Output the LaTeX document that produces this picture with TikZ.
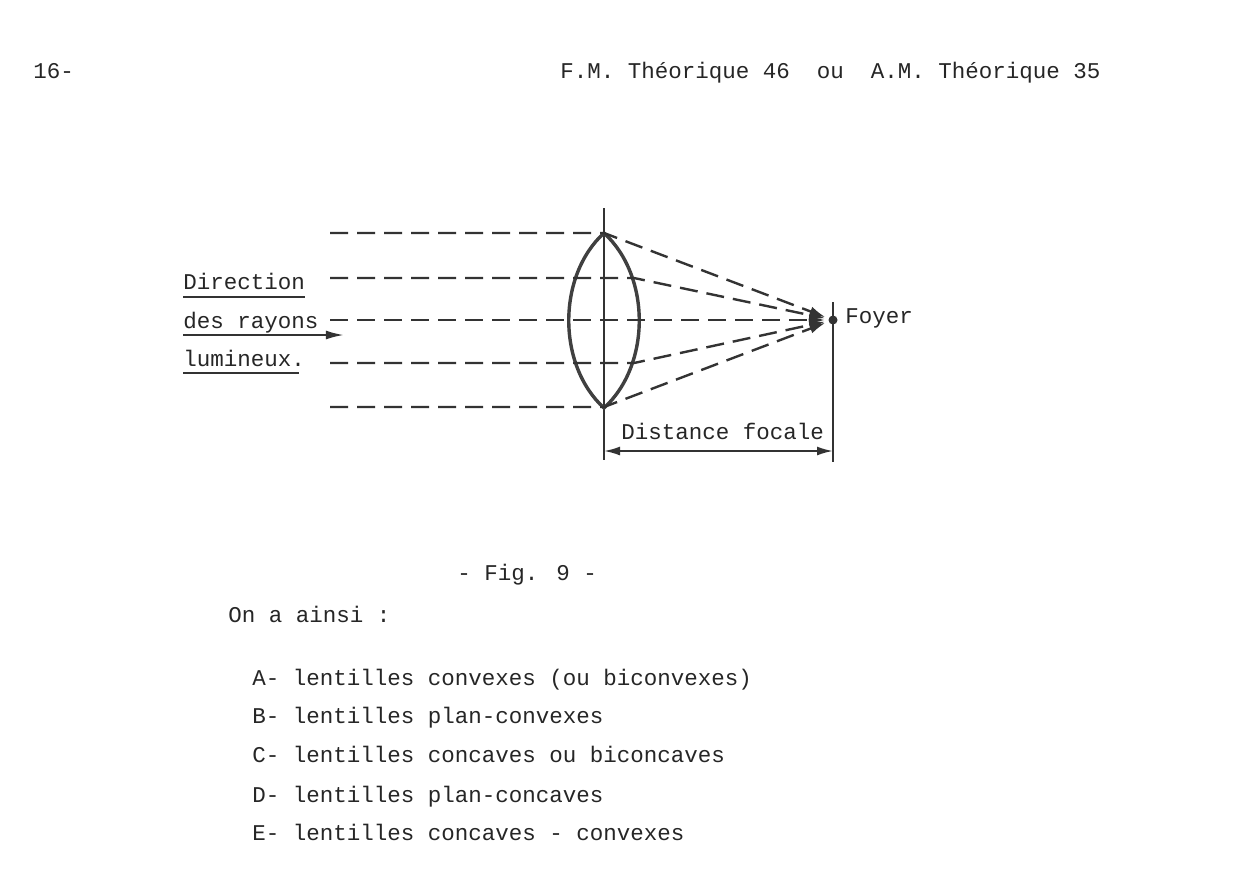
\documentclass[tikz,border=0pt]{standalone}
\usepackage{fontspec}
\setmainfont{Liberation Mono}
\usetikzlibrary{arrows.meta}

\begin{document}
\begin{tikzpicture}[x=0.5pt,y=-0.5pt,
  txt/.style={anchor=base west,inner sep=0pt,font=\fontsize{11.25}{13}\selectfont,text=black!85},
  ray/.style={draw=black!80,line width=1.2pt,dash pattern=on 9pt off 4.5pt,
    -{Latex[length=8pt,width=5pt]},shorten >=4pt},
  lensline/.style={draw=black!75,line width=1.7pt},
  thin/.style={draw=black!80,line width=1pt},
  tip/.style={{Latex[length=8pt,width=4.5pt]}-{Latex[length=8pt,width=4.5pt]}}]
\useasboundingbox[fill=white] (0,0) rectangle (1235,868);

% header
\node [txt] (page) at (33,78) {16-};
\node [txt] (head) at (560,78) {F.M. Théorique 46\ \ ou\ \ A.M. Théorique 35};

% lens and axis
\coordinate (lt) at (604,233);
\coordinate (lb) at (604,408);
\coordinate (at) at (604,208);
\coordinate (ab) at (604,460);
\draw [thin] (at) -- (ab);
\draw [lensline] (lt) .. controls (557,276) and (557,365) .. (lb)
  .. controls (651,365) and (651,276) .. (lt);

% focus
\coordinate (F) at (833,320);
\coordinate (ft) at (833,302);
\coordinate (fb) at (833,462);
\draw [thin] (ft) -- (fb);
\fill [black!80] (F) circle (4.5);
\node [txt] (foyer) at (845,323) {Foyer};

% rays
\foreach \y/\x [count=\i] in {233/604,278/634,320/640,363/634,407/604}{
  \coordinate (s\i) at (330,\y);
  \coordinate (r\i) at (\x,\y);
  \draw [ray] (s\i) -- (r\i) -- (F);
}

% direction label
\node [txt] (dir) at (183,289) {Direction};
\node [txt] (des) at (183,328) {des rayons};
\node [txt] (lum) at (183,366) {lumineux.};
\draw [thin] ([yshift=-4pt]dir.base west) -- ([yshift=-4pt]dir.base east);
\draw [thin,-{Latex[length=9pt,width=4.5pt]}] ([yshift=-3.5pt]des.base west)
  -- ([yshift=-3.5pt,xshift=12.5pt]des.base east);
\draw [thin] ([yshift=-3.5pt]lum.base west) -- ([yshift=-3.5pt,xshift=-3pt]lum.base east);

% focal distance
\coordinate (d1) at (604,451);
\coordinate (d2) at (833,451);
\draw [thin,tip] (d1) -- (d2);
\node [txt] (dist) at (621,439) {Distance focale};

% caption and text
\node [txt] (fig) at (457,580) {- Fig. 9 -};
\node [txt] (intro) at (228,622) {On a ainsi :};
\node [txt] (la) at (252,685) {A- lentilles convexes (ou biconvexes)};
\node [txt] (lb2) at (252,723) {B- lentilles plan-convexes};
\node [txt] (lc) at (252,762) {C- lentilles concaves ou biconcaves};
\node [txt] (ld) at (252,802) {D- lentilles plan-concaves};
\node [txt] (le) at (252,840) {E- lentilles concaves - convexes};
\end{tikzpicture}
\end{document}
